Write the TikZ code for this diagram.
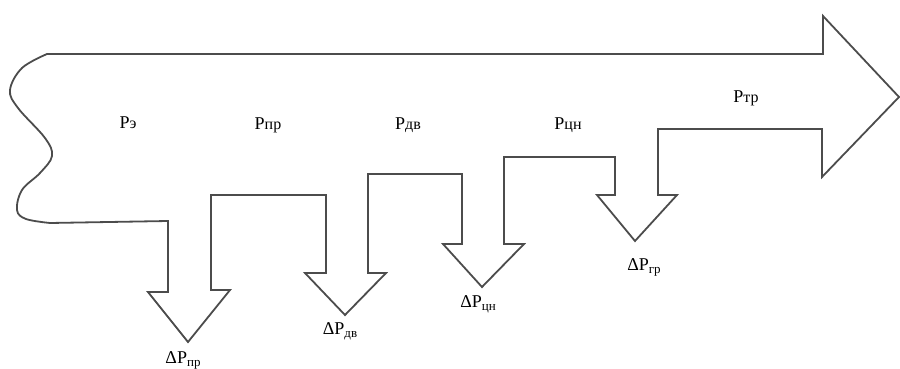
\documentclass[tikz,border=0pt]{standalone}
\usepackage{fontspec}
\setmainfont{Liberation Serif}
\begin{document}
\begin{tikzpicture}[x=1pt,y=-1pt,
  outline/.style={draw=black!70,line width=1.8pt,line join=miter},
  toplabel/.style={font=\fontsize{18}{18}\selectfont,inner sep=0pt},
  loss/.style={font=\fontsize{18}{18}\selectfont,inner sep=0pt}]
\useasboundingbox (0,0) rectangle (900,369);
\draw[outline]
  plot[smooth,tension=0.6] coordinates {(47,54) (22,68) (10,90) (18,108) (45,138) (52,156) (40,173) (22,190) (17,210) (26,219) (50,223)}
  -- (168,221) -- (168,292) -- (148,292) -- (188,342) -- (230,290) -- (211,290)
  -- (211,195) -- (326,195) -- (326,273) -- (305,273) -- (345,315) -- (386,273) -- (368,273)
  -- (368,174) -- (462,174) -- (462,244) -- (443,244) -- (482,287) -- (524,244) -- (504,244)
  -- (504,157) -- (615,157) -- (615,195) -- (597,195) -- (635,241) -- (677,195) -- (658,195)
  -- (658,129) -- (822,129) -- (822,177) -- (899,97) -- (823,16) -- (823,54) -- cycle;
\node[toplabel] (pe) at (128,123) {Р{\fontsize{16}{16}\selectfont э}};
\node[toplabel] (ppr) at (268,125) {Р{\fontsize{16}{16}\selectfont пр}};
\node[toplabel] (pdv) at (408,125) {Р{\fontsize{16}{16}\selectfont дв}};
\node[toplabel] (pcn) at (568,125) {Р{\fontsize{16}{16}\selectfont цн}};
\node[toplabel] (ptr) at (746,98) {Р{\fontsize{16}{16}\selectfont тр}};
\node[loss] (dpr) at (183,360) {ΔР\raisebox{-3pt}{\fontsize{13}{13}\selectfont пр}};
\node[loss] (ddv) at (340,331) {ΔР\raisebox{-3pt}{\fontsize{13}{13}\selectfont дв}};
\node[loss] (dcn) at (478,304) {ΔР\raisebox{-3pt}{\fontsize{13}{13}\selectfont цн}};
\node[loss] (dgr) at (644,267) {ΔР\raisebox{-3pt}{\fontsize{13}{13}\selectfont гр}};
\end{tikzpicture}
\end{document}
